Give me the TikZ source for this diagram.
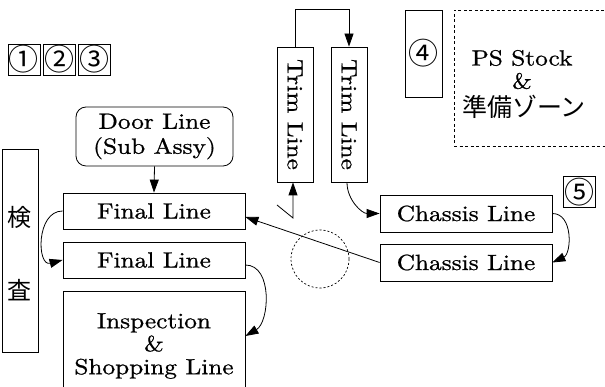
\documentclass[tikz,border=0pt]{standalone}
\usepackage{fontspec}
\usepackage{graphicx}
\setmainfont{lmroman10-regular.otf}[FakeStretch=1.15,FakeBold=0.9]
\newfontfamily\cjk{Noto Sans CJK JP}
\usetikzlibrary{arrows.meta}
\tikzset{
  box/.style={draw, line width=0.8pt, inner sep=0pt, align=center,
    font=\fontsize{22}{25}\selectfont},
  numbox/.style={box, minimum width=32pt, minimum height=31pt,
    font=\cjk\fontsize{30}{30}\selectfont},
  jtxt/.style={font=\cjk\fontsize{24}{24}\selectfont, inner sep=0pt},
  rtxt/.style={font=\fontsize{22}{25}\selectfont, align=center, inner sep=0pt},
  arr/.style={line width=0.8pt, -{Triangle[length=13pt,width=9pt]}},
}
\begin{document}
\begin{tikzpicture}[x=1pt,y=1pt]
\useasboundingbox (0,0) rectangle (605,387);
% numbered boxes
\node[numbox] (n1) at (24,327.5) {①};
\node[numbox] (n2) at (59,327.5) {②};
\node[numbox] (n3) at (94,327.5) {③};
\node[box, minimum width=37pt, minimum height=87pt, font=\cjk\fontsize{30}{30}\selectfont] (n4) at (423.5,333.5) {④};
\node[numbox] (n5) at (579,195) {⑤};
% inspection column
\node[box, minimum width=36pt, minimum height=203pt] (kensa) at (20,136.5) {};
\node[jtxt] (k1) at (20,170) {検};
\node[jtxt] (k2) at (20,97) {査};
% left column
\node[box, rounded corners=10pt, minimum width=157pt, minimum height=59pt] (door) at (154.5,250.5) {Door Line\\(Sub Assy)};
\node[box, minimum width=182pt, minimum height=36pt] (f1) at (154,176) {Final Line};
\node[box, minimum width=182pt, minimum height=36pt] (f2) at (154,127) {Final Line};
\node[box, minimum width=182pt, minimum height=110pt] (insp) at (154,41) {Inspection\\[-2pt]\&\\[-2pt]Shopping Line};
% trim lines
\node[box, minimum width=36pt, minimum height=135pt] (trimL) at (295,272.5) {\rotatebox{-90}{Trim Line}};
\node[box, minimum width=36pt, minimum height=135pt] (trimR) at (349,272.5) {\rotatebox{-90}{Trim Line}};
% PS stock zone
\node[draw, line width=0.8pt, dash pattern=on 3pt off 2.5pt, minimum width=161pt, minimum height=136pt, inner sep=0pt] (ps) at (534.5,309) {};
\node[rtxt] (ps1) at (522,329) {PS Stock};
\node[rtxt] (ps2) at (522,306) {\&};
\node[jtxt, font=\cjk\fontsize{25}{25}\selectfont] (ps3) at (524,280) {準備ゾーン};
% chassis
\node[box, minimum width=172pt, minimum height=37pt] (ch1) at (466,173.5) {Chassis Line};
\node[box, minimum width=172pt, minimum height=37pt] (ch2) at (466,124.5) {Chassis Line};
% dashed circle
\node[draw, circle, line width=0.7pt, dash pattern=on 2pt off 2pt, minimum size=58pt, inner sep=0pt] (circ) at (320,128) {};
% connectors
\draw[arr] (door.south) -- (f1.north);
\draw[arr] (trimL.north) -- ++(0,37) -| (trimR.north);
\coordinate (chkA) at (277,182);
\coordinate (chkB) at (293,169);
\draw[arr] (chkA) -- (chkB) -- ([xshift=-2pt]trimL.south);
\draw[arr] ([xshift=-2pt]trimR.south) to[out=-90,in=180] (ch1.west);
\draw[arr] (ch1.east) to[out=0,in=25,looseness=1.1] (ch2.east);
\draw[arr] (ch2.west) -- ([yshift=-6pt]f1.east);
\draw[arr] (f1.west) to[out=180,in=195,looseness=1.4] (f2.west);
\draw[arr] ([yshift=-5pt]f2.east) to[out=0,in=30] ([yshift=10pt]insp.east);
\end{tikzpicture}
\end{document}
